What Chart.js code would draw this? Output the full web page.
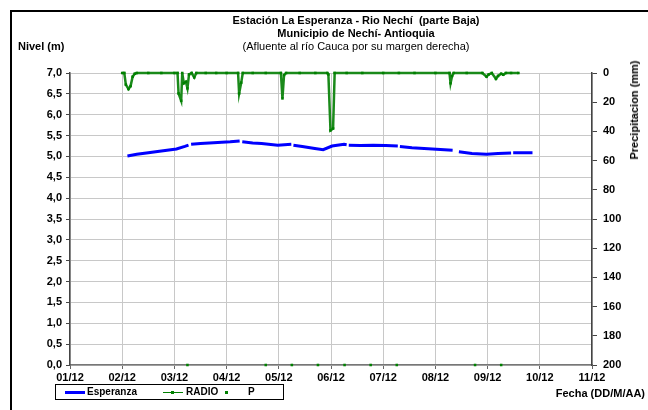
<!DOCTYPE html>
<html>
<head>
<meta charset="utf-8">
<script src="https://cdn.jsdelivr.net/npm/chart.js@4.4.1/dist/chart.umd.min.js"></script>
<style>
  html, body { margin:0; padding:0; background:#fff; }
  #wrap { position:relative; width:648px; height:410px; overflow:hidden; font-family:"Liberation Sans", Arial, sans-serif; }
  #frame { position:absolute; left:10px; top:10px; width:700px; height:500px; border-left:2px solid #000; border-top:2px solid #000; }
  canvas { position:absolute; left:0; top:0; }
  .t { position:absolute; white-space:nowrap; color:#000; font-size:11px; }
  .b { font-weight:bold; }
  #legend { position:absolute; left:55px; top:384px; width:227px; height:14px; border:1px solid #000; background:#fff; font-size:10px; font-weight:bold; }
  .li { position:absolute; top:0; line-height:14px; }
</style>
</head>
<body>
<div id="wrap">
  <div id="frame"></div>
  <canvas id="c" width="648" height="410"></canvas>
  <div class="t b" style="left:0;width:712px;text-align:center;top:14px;">Estación La Esperanza - Rio Nechí&nbsp; (parte Baja)</div>
  <div class="t b" style="left:0;width:712px;text-align:center;top:27px;">Municipio de Nechí- Antioquia</div>
  <div class="t" style="left:0;width:712px;text-align:center;top:40px;">(Afluente al río Cauca por su margen derecha)</div>
  <div class="t b" style="left:18px;top:40px;">Nivel (m)</div>
  <div class="t b" style="left:634px;top:110px;transform:translate(-50%,-50%) rotate(-90deg);">Precipitacion (mm)</div>
  <div class="t b" style="right:3px;top:387px;">Fecha (DD/M/AA)</div>
  <div id="legend">
    <div style="position:absolute;left:9px;top:6px;width:20px;height:3px;background:#0000ff;"></div>
    <div class="li" style="left:31px;">Esperanza</div>
    <div style="position:absolute;left:107px;top:7px;width:20px;height:1px;background:#008000;"></div>
    <div style="position:absolute;left:115px;top:6px;width:3px;height:3px;background:#008000;"></div>
    <div class="li" style="left:130px;">RADIO</div>
    <div style="position:absolute;left:169px;top:6px;width:3px;height:3px;background:#008000;"></div>
    <div class="li" style="left:192px;">P</div>
  </div>
</div>
<script>
// Day-of-month (December) positions and values
const dayTicks = [1,2,3,4,5,6,7,8,9,10,11];

const espDays = [2.10,2.28,2.50,2.75,3.04,3.20,3.27,3.29,3.32,3.50,3.75,4.07,4.25,4.27,4.30,4.50,4.67,4.98,5.24,5.26,5.28,5.45,5.69,5.85,6.02,6.25,6.30,6.32,6.34,6.56,6.81,7.05,7.28,7.30,7.32,7.55,7.94,8.33,8.39,8.45,8.70,8.98,9.20,9.45,9.47,9.49,9.86];
const espLevel = [5.01,5.05,5.09,5.13,5.18,5.24,5.27,null,5.29,5.31,5.33,5.35,5.37,null,5.35,5.32,5.31,5.27,5.29,null,5.27,5.24,5.19,5.16,5.25,5.29,5.28,null,5.27,5.26,5.27,5.26,5.25,null,5.24,5.21,5.18,5.15,null,5.11,5.07,5.05,5.07,5.08,null,5.09,5.09];

const radioDays = [2.00,2.04,2.07,2.12,2.16,2.20,2.24,2.28,2.50,2.75,3.00,3.06,3.08,3.13,3.15,3.18,3.22,3.25,3.28,3.33,3.38,3.42,3.60,3.80,4.00,4.22,4.24,4.28,4.31,4.50,4.75,5.04,5.07,5.10,5.14,5.40,5.70,5.93,5.95,5.99,6.04,6.07,6.30,6.60,7.00,7.30,7.60,8.00,8.27,8.29,8.32,8.35,8.60,8.90,8.98,9.02,9.08,9.16,9.20,9.26,9.30,9.35,9.45,9.59];
const radioMm = [0,0,8,11,9,2.5,0.5,0,0,0,0,0,14,19,0,7,6,10.5,1,0,3,0,0,0,0,0,14,6.6,0,0,0,0,17.4,1.4,0,0,0,0,1,39.3,38,0,0,0,0,0,0,0,0,7,2,0,0,0,2.5,1,0,4,2,0.5,1.2,0,0,0];

const pDays = [3.25,4.75,5.25,5.75,6.26,6.76,7.26,8.76,9.26];
const pMm = [200,200,200,200,200,200,200,200,200];

const zip = (xs, ys) => xs.map((x, i) => ({x: x, y: ys[i]}));
const FONT = {family: "'Liberation Sans', Arial, sans-serif", size: 11, weight: 'bold'};

new Chart(document.getElementById('c'), {
  type: 'line',
  data: {
    datasets: [
      { label: 'Esperanza', data: zip(espDays, espLevel), yAxisID: 'y', borderColor: '#0000ff', borderWidth: 3, pointRadius: 0, spanGaps: false, tension: 0, order: 3 },
      { label: 'RADIO', data: zip(radioDays, radioMm), yAxisID: 'y2', clip: false, borderColor: '#1a8a1a', borderWidth: 2.5, pointStyle: 'rect', pointRadius: 1.8, pointBackgroundColor: '#008000', pointBorderColor: '#008000', pointBorderWidth: 0, tension: 0, order: 1 },
      { label: 'P', data: zip(pDays, pMm), yAxisID: 'y2', clip: false, showLine: false, pointStyle: 'rect', pointRadius: 1.8, pointBackgroundColor: '#008000', pointBorderColor: '#008000', pointBorderWidth: 0, order: 2 }
    ]
  },
  options: {
    responsive: false, animation: false, devicePixelRatio: 1,
    layout: { padding: { top: 73, left: 0, right: 0, bottom: 0 } },
    plugins: { legend: { display: false }, tooltip: { enabled: false } },
    scales: {
      x: {
        type: 'linear', min: 1, max: 11,
        afterBuildTicks: s => { s.ticks = dayTicks.map(v => ({value: v})); },
        afterFit: s => { s.height = 45; },
        ticks: { callback: v => String(v).padStart(2, '0') + '/12', font: FONT, color: '#000', maxRotation: 0, autoSkip: false, padding: 2 },
        grid: { color: '#c8c8c8', lineWidth: 1, tickLength: 4, tickColor: '#666' },
        border: { color: '#777', width: 1.5 }
      },
      y: {
        position: 'left', min: 0, max: 7,
        ticks: { stepSize: 0.5, callback: v => v.toFixed(1).replace('.', ','), font: FONT, color: '#000', padding: 4 },
        afterFit: s => { s.width = 70; },
        grid: { color: '#c8c8c8', lineWidth: 1, tickLength: 4, tickColor: '#444' },
        border: { color: '#444', width: 1.5 }
      },
      y2: {
        position: 'right', min: 0, max: 200, reverse: true,
        ticks: { stepSize: 20, font: FONT, color: '#000', padding: 6 },
        afterFit: s => { s.width = 56; },
        grid: { drawOnChartArea: false, tickLength: 5, tickColor: '#444' },
        border: { color: '#444', width: 1.5 }
      }
    }
  }
});
</script>
</body>
</html>
